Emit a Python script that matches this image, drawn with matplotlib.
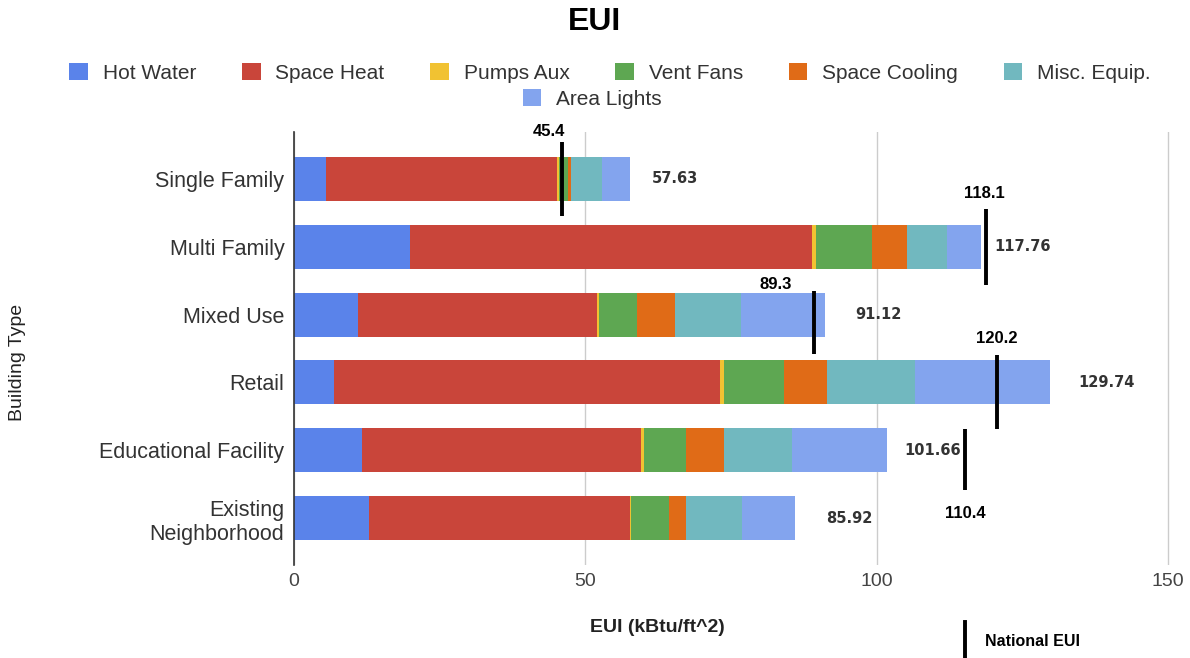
import numpy as np
import matplotlib
matplotlib.use("Agg")
import matplotlib.pyplot as plt
from matplotlib.patches import Patch

plt.rcParams['font.family'] = ['Liberation Sans', 'DejaVu Sans']

# data
categories = ["Single Family", "Multi Family", "Mixed Use", "Retail",
              "Educational Facility", "Existing\nNeighborhood"]
hot_water = [5.5, 19.9, 10.9, 6.8, 11.7, 12.9]
space_heat = [39.6, 69.0, 41.1, 66.3, 47.8, 44.7]
pumps_aux = [0.4, 0.7, 0.4, 0.6, 0.5, 0.3]
vent_fans = [1.5, 9.6, 6.4, 10.3, 7.3, 6.4]
space_cooling = [0.6, 6.0, 6.6, 7.4, 6.5, 3.0]
misc_equip = [5.2, 6.9, 11.3, 15.1, 11.6, 9.5]
area_lights = [4.8, 5.7, 14.4, 23.2, 16.3, 9.1]
total_labels = ["57.63", "117.76", "91.12", "129.74", "101.66", "85.92"]

series_names = ["Hot Water", "Space Heat", "Pumps Aux", "Vent Fans",
                "Space Cooling", "Misc. Equip.", "Area Lights"]
series_colors = ["#5a83ea", "#c9453a", "#f1c232", "#5ea752",
                 "#e06b17", "#71b8bf", "#83a4ee"]

# national EUI markers (row index, label, position drawn in the reference)
national_rows = [0, 1, 2, 3, 4]
national_eui = ["45.4", "118.1", "89.3", "120.2", "110.4"]
national_x = [46.0, 118.7, 89.2, 120.6, 115.2]

series = [hot_water, space_heat, pumps_aux, vent_fans,
          space_cooling, misc_equip, area_lights]

fig = plt.figure(figsize=(11.9, 6.58), dpi=100)
# x = 0 at 294 px, 150 at 1168 px; keep a little room so the 150 grid line shows
ax = fig.add_axes([294 / 1190, 1 - 565 / 658, (1174 - 294) / 1190, (565 - 132) / 658])

y = np.arange(len(categories))
left = np.zeros(len(categories))
for vals, name, col in zip(series, series_names, series_colors):
    ax.barh(y, vals, left=left, height=0.65, color=col, label=name, zorder=3)
    left += np.array(vals)

# total labels to the right of each bar
label_pad = [22, 14, 30, 28, 18, 32]
for i, (tot, txt) in enumerate(zip(left, total_labels)):
    ax.annotate(txt, xy=(tot, i), xytext=(label_pad[i], 0), textcoords='offset pixels',
                ha='left', va='center', fontsize=10.5, fontweight='bold',
                color='#333333', family='DejaVu Sans', zorder=5)

# national EUI lines
line_top = [-0.55, -0.55, -0.34, -0.41, -0.31]
line_bot = [0.55, 0.56, 0.58, 0.68, 0.58]
for k, r in enumerate(national_rows):
    xv = national_x[k]
    ax.plot([xv, xv], [r + line_top[k], r + line_bot[k]], color='black', lw=2.8,
            solid_capstyle='butt', zorder=6, clip_on=False)

# label placement (pixel offsets from line ends)
lab_anchor = ['top', 'top', 'top', 'top', 'bottom']
lab_off = [(-13, 10), (-1, 16), (-38, 7), (0, 16), (0, -24)]
for k, r in enumerate(national_rows):
    yy = r + (line_top[k] if lab_anchor[k] == 'top' else line_bot[k])
    ax.annotate(national_eui[k], xy=(national_x[k], yy), xytext=lab_off[k],
                textcoords='offset pixels', ha='center', va='center',
                fontsize=12, fontweight='bold', color='black', zorder=7,
                annotation_clip=False)

ax.set_xlim(0, 151)
ax.set_ylim(5.69, -0.69)
ax.set_xticks([0, 50, 100, 150])
ax.set_yticks(y)
ax.set_yticklabels(categories, fontsize=15.5, color='#333333')
ax.tick_params(axis='y', length=0, pad=7)
ax.tick_params(axis='x', length=0, pad=6, labelsize=14, labelcolor='#444444')
ax.grid(axis='x', color='#cccccc', lw=1, zorder=0)
for s in ['top', 'right', 'bottom']:
    ax.spines[s].set_visible(False)
ax.spines['left'].set_color('#333333')
ax.spines['left'].set_linewidth(1.2)
ax.spines['left'].set_zorder(4)

fig.text(594 / 1190, 1 - 22 / 658, "EUI", ha='center', va='center',
         fontsize=23, fontweight='bold', color='black')
fig.text(657 / 1190, 1 - 628 / 658, "EUI (kBtu/ft^2)", ha='center', va='center',
         fontsize=14, fontweight='bold', color='#222222')
fig.text(18 / 1190, 1 - 362 / 658, "Building Type", ha='center', va='center',
         rotation=90, fontsize=14, color='#222222')

# national EUI key
fig.add_artist(plt.Line2D([965 / 1190, 965 / 1190], [1 - 622 / 658, 0],
                          color='black', lw=2.8, transform=fig.transFigure))
fig.text(985 / 1190, 1 - 641 / 658, "National EUI", ha='left', va='center',
         fontsize=11.5, fontweight='bold', color='black')

# legend: six items in first row, one centred below
handles = [Patch(facecolor=c, edgecolor='none') for c in series_colors]
fig.legend(handles[:6], series_names[:6], loc='center',
           bbox_to_anchor=(610 / 1190, 1 - 73 / 658), ncol=6, frameon=False,
           fontsize=15, handlelength=0.9, handleheight=0.9,
           handletextpad=0.7, columnspacing=2.2, labelcolor='#333333')
fig.legend(handles[6:], series_names[6:], loc='center',
           bbox_to_anchor=(592 / 1190, 1 - 99 / 658), ncol=1, frameon=False,
           fontsize=15, handlelength=0.9, handleheight=0.9,
           handletextpad=0.7, labelcolor='#333333')

fig.savefig("out.png", dpi=100)
